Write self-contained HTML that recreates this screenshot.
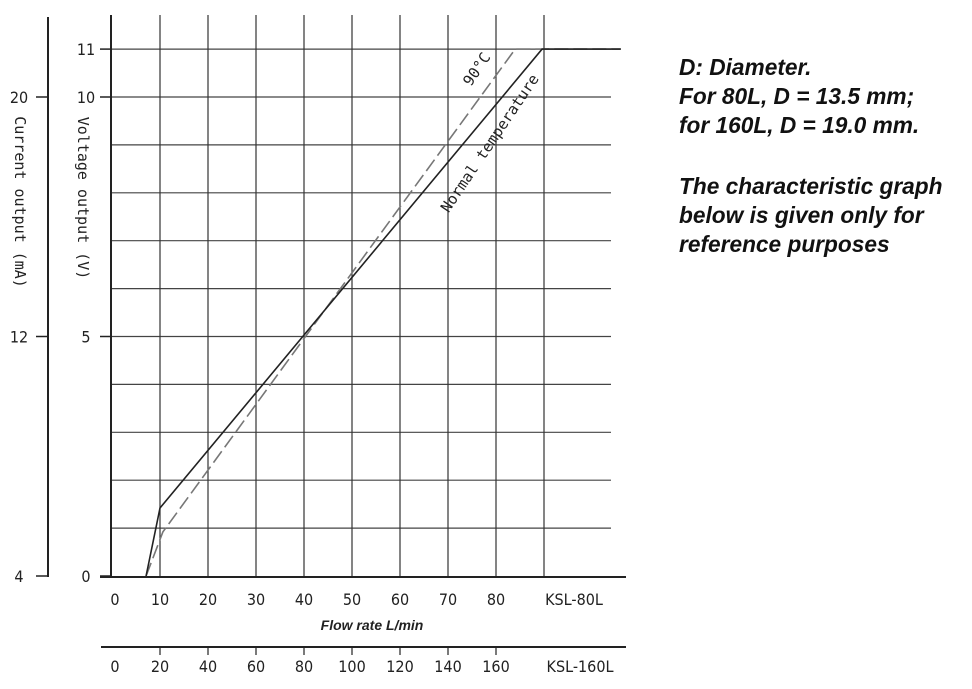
<!DOCTYPE html>
<html><head><meta charset="utf-8"><style>
body{margin:0;background:#fff;}
svg text{font-family:"DejaVu Sans Condensed","Liberation Sans Narrow","Liberation Sans",sans-serif;}
svg text.mono{font-family:"DejaVu Sans Mono","Liberation Mono",monospace;}
svg text.title{font-family:"Liberation Sans",sans-serif;}
.note{position:absolute;left:679px;font:italic bold 22.7px "Liberation Sans",sans-serif;color:#111;line-height:29px;white-space:nowrap;}
</style></head><body>
<div style="position:relative;width:972px;height:689px;">
<svg id="chart" width="972" height="689" style="position:absolute;left:0;top:0"></svg>
<div class="note" style="top:53px">D: Diameter.<br>For 80L, D = 13.5 mm;<br>for 160L, D = 19.0 mm.</div>
<div class="note" style="top:172px">The characteristic graph<br>below is given only for<br>reference purposes</div>
</div>
<script>
const xTicks80=[0,10,20,30,40,50,60,70,80];
const xTicks160=[0,20,40,60,80,100,120,140,160];
const gridFlows=[10,20,30,40,50,60,70,80,90];
const gridVolts=[1,2,3,4,5,6,7,8,9,10,11];
const voltTicks=[0,5,10,11];
const currentTicks=[4,12,20];
const normalFlow=[7.1,10,89.6,106];
const normalVolt=[0,1.42,11,11];
const hotFlow=[7.1,10.6,84,106];
const hotVolt=[0,0.92,11,11];

const NS="http://www.w3.org/2000/svg";
const svg=document.getElementById('chart');
const X=v=>112+v*4.8;
const Y=v=>576-v*47.9;
const I=c=>Y((c-4)/16*10);
function el(t,a,p){const e=document.createElementNS(NS,t);for(const k in a)e.setAttribute(k,a[k]);(p||svg).appendChild(e);return e;}
function txt(s,x,y,a){const e=el('text',Object.assign({x:x,y:y,'font-size':16,fill:'#222','text-anchor':'middle'},a||{}));e.textContent=s;return e;}

const grid=el('g',{});


gridVolts.forEach(v=>{const l=el('line',{x1:112,x2:611,y1:Y(v),y2:Y(v),stroke:'#444','stroke-width':1.2},grid);

});
gridFlows.forEach(f=>{const l=el('line',{x1:X(f),x2:X(f),y1:15,y2:576,stroke:'#333','stroke-width':1.2},grid);

});

const ax=el('line',{x1:111,x2:111,y1:15,y2:577,stroke:'#222','stroke-width':2});


const bx=el('line',{x1:100,x2:626,y1:577,y2:577,stroke:'#222','stroke-width':2});


const cx=el('line',{x1:48,x2:48,y1:17,y2:577,stroke:'#222','stroke-width':2});


const b2=el('line',{x1:101,x2:626,y1:647,y2:647,stroke:'#222','stroke-width':2});



voltTicks.forEach(v=>{el('line',{x1:100,x2:111,y1:Y(v),y2:Y(v),stroke:'#222','stroke-width':1.5});
const t=txt(String(v),86,Y(v)+6,{'text-anchor':'middle'});

});
currentTicks.forEach(c=>{el('line',{x1:36,x2:48,y1:I(c),y2:I(c),stroke:'#222','stroke-width':1.5});
const t=txt(String(c),19,I(c)+6);

});
xTicks80.forEach(f=>{const t=txt(String(f),f===0?X(f)+3:X(f),605);

});
xTicks160.forEach(f=>{const xx=X(f/2);if(f>0)el('line',{x1:xx,x2:xx,y1:647,y2:655,stroke:'#222','stroke-width':1.2});
const t=txt(String(f),f===0?xx+3:xx,672);

});
let t=txt('KSL-80L',574,605);
t=txt('KSL-160L',580,672);
t=txt('Flow rate L/min',372,630,{'font-size':14,'font-weight':'bold','font-style':'italic','class':'title'});

t=txt('Current output (mA)',0,0,{transform:'translate(15,202) rotate(90)','font-size':15,'class':'mono'});

t=txt('Voltage output (V)',0,0,{transform:'translate(78,198) rotate(90)','font-size':15,'class':'mono'});


const pts=(fs,vs)=>fs.map((f,i)=>X(f)+','+Y(vs[i])).join(' ');
const hot=el('polyline',{points:pts(hotFlow,hotVolt),fill:'none',stroke:'#777','stroke-width':1.6,'stroke-dasharray':'14,5'});


const nor=el('polyline',{points:pts(normalFlow,normalVolt),fill:'none',stroke:'#222','stroke-width':1.6});


t=txt('90°C',0,0,{transform:'translate(481,72) rotate(-56)','font-size':15,'class':'mono'});

t=txt('Normal temperature',0,0,{transform:'translate(494,146) rotate(-56)','font-size':15,'class':'mono'});

</script>
</body></html>
